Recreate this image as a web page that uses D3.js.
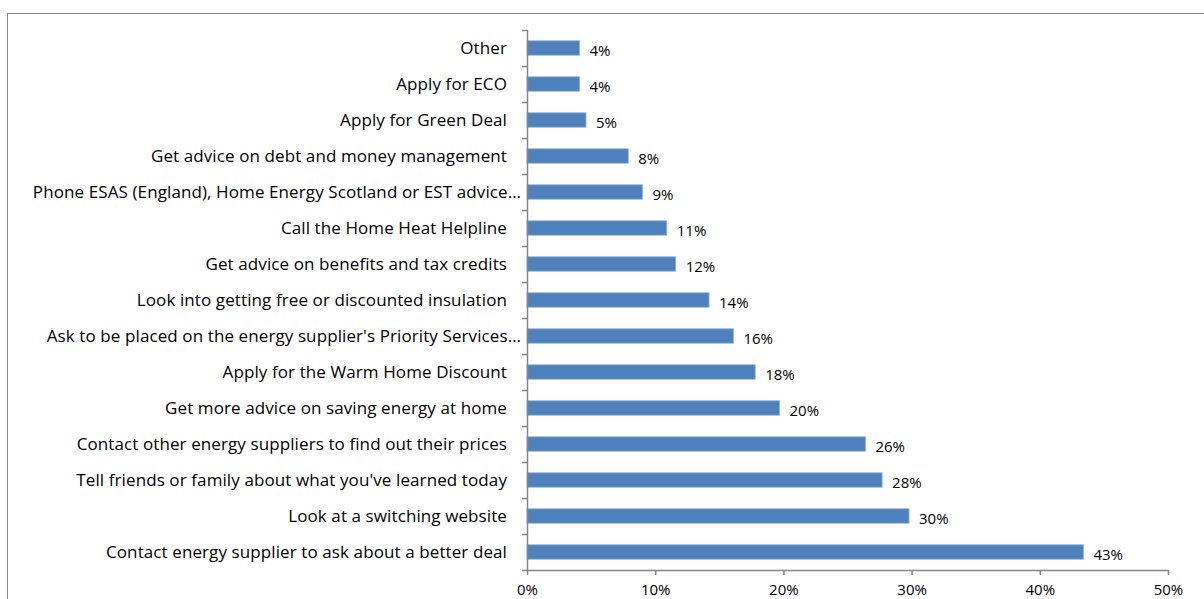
<!DOCTYPE html>
<html>
<head>
<meta charset="utf-8">
<script src="https://cdn.jsdelivr.net/npm/d3@7"></script>
<style>
  html, body { margin: 0; padding: 0; background: #fff; }
  svg { display: block; }
  text { font-family: "Open Sans", Lato, sans-serif; fill: #000; }
</style>
</head>
<body>
<svg id="chart" width="1204" height="599"></svg>
<script>
// Survey actions, top to bottom as drawn
const categories = [
  "Other",
  "Apply for ECO",
  "Apply for Green Deal",
  "Get advice on debt and money management",
  "Phone ESAS (England), Home Energy Scotland or EST advice…",
  "Call the Home Heat Helpline",
  "Get advice on benefits and tax credits",
  "Look into getting free or discounted insulation",
  "Ask to be placed on the energy supplier's Priority Services…",
  "Apply for the Warm Home Discount",
  "Get more advice on saving energy at home",
  "Contact other energy suppliers to find out their prices",
  "Tell friends or family about what you've learned today",
  "Look at a switching website",
  "Contact energy supplier to ask about a better deal"
];
// Share of respondents (fraction)
const shares = [0.041, 0.041, 0.046, 0.079, 0.090, 0.109, 0.116, 0.142, 0.161, 0.178, 0.197, 0.264, 0.277, 0.298, 0.434];
const xTicks = [0, 0.1, 0.2, 0.3, 0.4, 0.5];

(function draw() {
  const svg = d3.select("#chart");
  const plotLeft = 527, plotRight = 1168, plotTop = 30, plotBottom = 570;
  const axisColor = "#868686";

  // Chart frame
  svg.append("rect")
    .attr("x", 7.5).attr("y", 13.5)
    .attr("width", 1204).attr("height", 600)
    .attr("fill", "none").attr("stroke", axisColor).attr("stroke-width", 1);

  const x = d3.scaleLinear().domain([0, 0.5]).range([plotLeft, plotRight]);
  const y = d3.scaleBand().domain(categories).range([plotTop, plotBottom]).paddingInner(0.6).paddingOuter(0.3);
  const yEdges = d3.scaleLinear().domain([0, categories.length]).range([plotTop, plotBottom]);

  // Bars
  svg.append("g").selectAll("rect")
    .data(categories)
    .join("rect")
    .attr("x", x(0))
    .attr("y", d => y(d))
    .attr("width", (d, i) => x(shares[i]) - x(0))
    .attr("height", y.bandwidth())
    .attr("fill", "#4F81BD")
    .attr("stroke", "#8FAFDA")
    .attr("stroke-width", 0.8);

  // Value labels
  svg.append("g").selectAll("text")
    .data(categories)
    .join("text")
    .attr("x", (d, i) => x(shares[i]) + 10)
    .attr("y", d => y(d) + y.bandwidth() / 2 + 3)
    .attr("dy", "0.35em")
    .attr("font-size", 15)
    .text((d, i) => d3.format(".0%")(shares[i]));

  // Category labels (truncated ones sit closer to the axis)
  svg.append("g").selectAll("text")
    .data(categories)
    .join("text")
    .attr("x", d => d.endsWith("…") ? plotLeft - 6 : plotLeft - 20)
    .attr("y", d => y(d) + y.bandwidth() / 2)
    .attr("dy", "0.35em")
    .attr("text-anchor", "end")
    .attr("font-size", 17)
    .attr("letter-spacing", 0.1)
    .text(d => d);

  // Vertical axis with tick marks between categories
  const yAxis = svg.append("g");
  yAxis.append("line")
    .attr("x1", plotLeft + 0.5).attr("x2", plotLeft + 0.5)
    .attr("y1", plotTop).attr("y2", plotBottom)
    .attr("stroke", axisColor).attr("stroke-width", 1.5);
  yAxis.selectAll("line.tick")
    .data(d3.range(categories.length + 1))
    .join("line")
    .attr("class", "tick")
    .attr("x1", plotLeft - 5).attr("x2", plotLeft)
    .attr("y1", i => Math.round(yEdges(i)) + 0.5)
    .attr("y2", i => Math.round(yEdges(i)) + 0.5)
    .attr("stroke", axisColor).attr("stroke-width", 1.5);

  // Horizontal axis
  const xAxis = svg.append("g").attr("transform", `translate(0,${plotBottom})`)
    .call(d3.axisBottom(x).tickValues(xTicks).tickFormat(d3.format(".0%")).tickSize(5).tickSizeOuter(0));
  xAxis.select(".domain").attr("stroke", axisColor).attr("stroke-width", 1.5);
  xAxis.selectAll(".tick line").attr("stroke", axisColor).attr("stroke-width", 1.5);
  xAxis.selectAll(".tick text")
    .attr("font-family", "'Open Sans', Lato, sans-serif")
    .attr("font-size", 15)
    .attr("fill", "#000")
    .attr("y", 14);
})();
</script>
</body>
</html>
